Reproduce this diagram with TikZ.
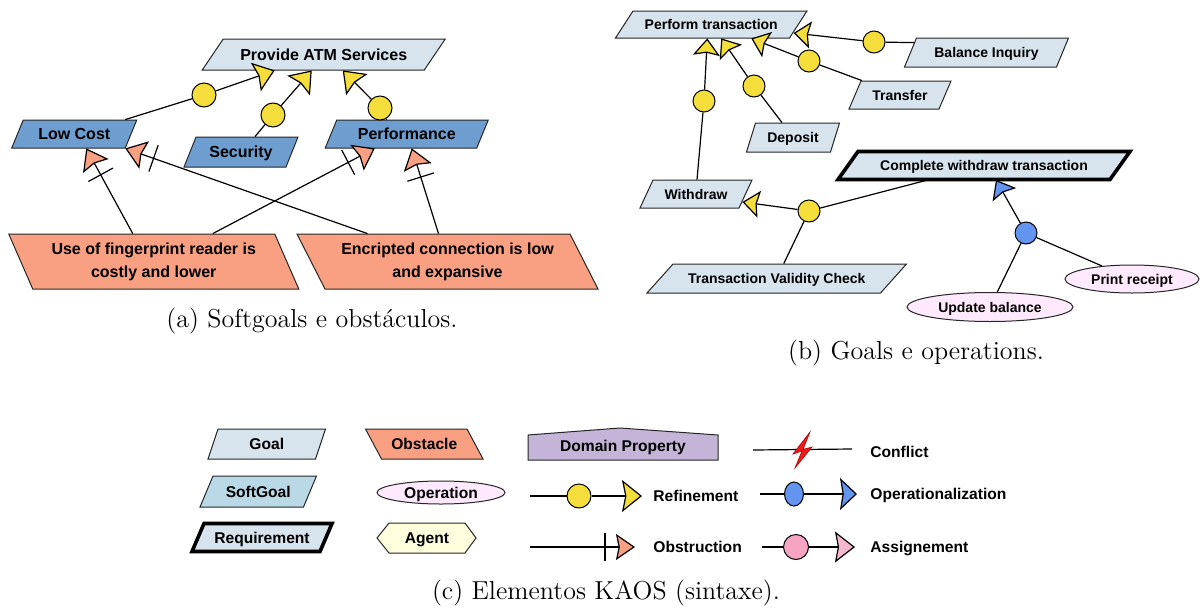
\documentclass[tikz,border=0pt]{standalone}
\usepackage{fontspec}
\newfontfamily\kaosfont{Liberation Sans}
\usetikzlibrary{arrows.meta,calc,shapes.geometric,decorations.markings}

\definecolor{goalfill}{RGB}{215,228,237}
\definecolor{sgdark}{RGB}{110,158,207}
\definecolor{sglight}{RGB}{185,217,230}
\definecolor{obstfill}{RGB}{250,160,130}
\definecolor{opfill}{RGB}{255,233,252}
\definecolor{agentfill}{RGB}{255,255,222}
\definecolor{domfill}{RGB}{196,180,216}
\definecolor{refyellow}{RGB}{245,221,60}
\definecolor{opblue}{RGB}{98,148,240}
\definecolor{aspink}{RGB}{245,165,195}
\definecolor{boltred}{RGB}{240,25,25}

% slanted KAOS box: polygon style, text style, name, centre x, centre y,
% edge length, height, slant (positive: top shifted right), text
\newcommand{\kpara}[9]{%
  \path[#1] ({#4-(#6)/2+(#8)/2},{#5-(#7)/2}) -- ({#4+(#6)/2+(#8)/2},{#5-(#7)/2})
     -- ({#4+(#6)/2-(#8)/2},{#5+(#7)/2}) -- ({#4-(#6)/2-(#8)/2},{#5+(#7)/2}) -- cycle;
  \node[#2, inner sep=0pt, minimum width=#6*0.5pt, minimum height=#7*0.5pt] (#3) at (#4,#5) {#9};}

\tikzset{
  conn/.style={draw=black, line width=0.6pt},
  kframe/.style={draw=black!85, line width=0.5pt},
  goal/.style={kframe, fill=goalfill},
  sgoalA/.style={kframe, fill=sgdark},
  sgoal/.style={kframe, fill=sglight},
  reqbox/.style={draw=black, line width=1.8pt, fill=goalfill, line join=miter},
  obst/.style={kframe, fill=obstfill},
  fa/.style={font=\kaosfont\bfseries\fontsize{8}{9.6}\selectfont, text height=6pt, text depth=0.2pt},
  fatwo/.style={font=\kaosfont\bfseries\fontsize{8}{11.5}\selectfont, align=center},
  fb/.style={font=\kaosfont\bfseries\fontsize{7}{8.4}\selectfont, text height=5.2pt, text depth=0.2pt},
  fc/.style={font=\kaosfont\bfseries\fontsize{7.8}{9.4}\selectfont, text height=5.8pt, text depth=0.2pt},
  capt/.style={font=\fontsize{13}{15.6}\selectfont, inner sep=0pt},
  kdot/.style={circle, draw=black, line width=0.5pt, inner sep=0pt},
  refdot/.style={kdot, fill=refyellow},
  opdot/.style={kdot, fill=opblue},
  asdot/.style={kdot, fill=aspink},
  opnode/.style={ellipse, draw=black!85, line width=0.5pt, fill=opfill, inner sep=0pt},
  obsbar/.style={postaction={decorate}, decoration={markings,
      mark=at position -15pt with {\draw[-, black, line width=0.6pt] (0pt,-7pt) -- (0pt,7pt);}}},
  refA/.style={conn, -{Stealth[length=10pt, width=15pt, inset=1.4pt, fill=refyellow]}},
  refB/.style={conn, -{Stealth[length=8.5pt, width=13.5pt, inset=1.3pt, fill=refyellow]}},
  refL/.style={conn, -{Stealth[length=10pt, width=16pt, inset=1.6pt, fill=refyellow]}},
  obsA/.style={conn, -{Stealth[length=10pt, width=14.5pt, inset=1.4pt, fill=obstfill]}, obsbar},
  obsL/.style={conn, -{Stealth[length=9.5pt, width=13pt, inset=1.3pt, fill=obstfill]}, obsbar},
  opB/.style={conn, -{Stealth[length=8.5pt, width=13.5pt, inset=1.3pt, fill=opblue]}},
  opL/.style={conn, -{Stealth[length=8.5pt, width=16pt, inset=1.3pt, fill=opblue]}},
  asL/.style={conn, -{Stealth[length=10pt, width=15.5pt, inset=1.4pt, fill=aspink!80!white]}},
}

\begin{document}
\begin{tikzpicture}[x=0.5pt, y=-0.5pt]
\path[fill=white, use as bounding box] (0,0) rectangle (1200,611);

% ---------------- (a) softgoals and obstacles ----------------
\kpara{goal}{fa}{atm}{323.75}{54.5}{222}{31}{21}{Provide ATM Services}
\kpara{sgoalA}{fa}{lc}{74.25}{134}{113.5}{28}{11.5}{Low Cost}
\kpara{sgoalA}{fa}{sec}{241}{152}{102}{30}{12}{Security}
\kpara{sgoalA}{fa}{perf}{406.75}{134}{151.5}{28}{11.5}{Performance}
\kpara{obst}{fatwo}{ob1}{153.75}{261.5}{266}{55}{-24}{Use of fingerprint reader is\\costly and lower}
\kpara{obst}{fatwo}{ob2}{447.5}{261.5}{273}{55}{-28}{Encripted connection is low\\and expansive}

\node[refdot, minimum size=12pt] (ra1) at (204,95) {};
\node[refdot, minimum size=12pt] (ra2) at (273,115) {};
\node[refdot, minimum size=12pt] (ra3) at (380,108) {};

\draw[conn] ($(lc.north)+(51,0)$) -- (ra1);
\draw[refA] (ra1) -- ($(atm.south)+(-49,0)$);
\draw[conn] ($(sec.north)+(14,0)$) -- (ra2);
\draw[refA] (ra2) -- ($(atm.south)+(-12,0)$);
\draw[conn] ($(perf.north)+(-20,0)$) -- (ra3);
\draw[refA] (ra3) -- ($(atm.south)+(19,0)$);

\draw[obsA] ($(ob1.north)+(-21,0)$) -- ($(lc.south)+(12,0)$);
\draw[obsA] ($(ob1.north)+(59,0)$) -- ($(perf.south)+(-32,0)$);
\draw[obsA] ($(ob2.north)+(-80,0)$) -- ($(lc.south)+(51,0)$);
\draw[obsA] ($(ob2.north)+(-9,0)$) -- ($(perf.south)+(5,0)$);

\node[capt] (capa) at (312,321.5) {(a) Softgoals e obstáculos.};

% ---------------- (b) goals and operations ----------------
\kpara{goal}{fb}{pt}{711.25}{24.5}{174}{27}{17.5}{Perform transaction}
\kpara{goal}{fb}{bi}{986.5}{52.5}{152}{29}{12}{Balance Inquiry}
\kpara{goal}{fb}{tf}{900}{95}{90}{28}{12}{Transfer}
\kpara{goal}{fb}{dep}{793}{137.5}{84}{29}{9}{Deposit}
\kpara{goal}{fb}{wd}{696}{194}{99}{28}{13}{Withdraw}
\kpara{reqbox}{fb}{cwt}{984}{165.5}{272}{28}{20}{Complete withdraw transaction}
\kpara{goal}{fb}{tvc}{776.75}{278.5}{233.5}{29}{26}{Transaction Validity Check}
\node[opnode, fb, minimum width=83pt, minimum height=14.5pt] (ub) at (990,307) {Update balance};
\node[opnode, fb, minimum width=67pt, minimum height=14pt] (pr) at (1132,279) {Print receipt};

\node[refdot, minimum size=11pt] (rb1) at (874,42) {};
\node[refdot, minimum size=11pt] (rb2) at (809,61) {};
\node[refdot, minimum size=11pt] (rb3) at (754,86) {};
\node[refdot, minimum size=11pt] (rb4) at (704,101) {};
\node[refdot, minimum size=11pt] (rb5) at (809,211) {};
\node[opdot, minimum size=11pt] (opd) at (1026,233) {};

\draw[conn] ($(bi.north west)+(4,5)$) -- (rb1);
\draw[refB] (rb1) -- ($(pt.east)+(-5,8.5)$);
\draw[conn] ($(tf.north)+(-38,0)$) -- (rb2);
\draw[refB] (rb2) -- ($(pt.south)+(40,0)$);
\draw[conn] ($(dep.north)+(-11,0)$) -- (rb3);
\draw[refB] (rb3) -- ($(pt.south)+(10,0)$);
\draw[conn] ($(wd.north)+(1,0)$) -- (rb4);
\draw[refB] (rb4) -- ($(pt.south)+(-4,0)$);
\draw[conn] ($(cwt.south)+(-56,0)$) -- (rb5);
\draw[conn] ($(tvc.north)+(7,0)$) -- (rb5);
\draw[refB] (rb5) -- ($(wd.east)+(-3.5,8)$);
\draw[opB] (opd) -- ($(cwt.south)+(12,0)$);
\draw[conn] (opd) -- (ub);
\draw[conn] (opd) -- (pr);

\node[capt] (capb) at (916,353) {(b) Goals e operations.};

% ---------------- (c) KAOS notation ----------------
\kpara{goal}{fc}{lgoal}{266.75}{444}{107.5}{30}{10}{Goal}
\kpara{sgoal}{fc}{lsg}{258.25}{491.5}{103.5}{31}{13}{SoftGoal}
\kpara{reqbox}{fc}{lreq}{262}{537.5}{128}{28}{12}{Requirement}
\kpara{obst}{fc}{lobs}{424.25}{444}{101.5}{30}{-16}{Obstacle}
\node[opnode, fc, minimum width=64pt, minimum height=11.5pt] (lop) at (441,492.5) {Operation};
\path[kframe, fill=agentfill] (377,538) -- (389,523) -- (465,523) -- (476,538) -- (465,553) -- (389,553) -- cycle;
\node[fc, inner sep=0pt] (lag) at (427,538) {Agent};
\path[kframe, fill=domfill] (528,460) -- (528,435) -- (620,428) -- (718,435) -- (718,460) -- cycle;
\node[fc, inner sep=0pt] (ldom) at (623,446) {Domain Property};

% conflict
\coordinate (cfa) at (753,450);
\coordinate (cfb) at (852,449);
\draw[conn] (cfa) -- (cfb);
\path[fill=boltred, draw=red!70!black, line width=0.3pt]
  (810,432) -- (793,454) -- (802,451) -- (795,468) -- (812,447) -- (803,449.5) -- cycle;
\node[fc, inner sep=0pt, anchor=west] (lconf) at (870,452) {Conflict};

% refinement
\coordinate (rfa) at (530,496);
\node[refdot, minimum size=12pt] (rfd) at (579,496) {};
\coordinate (rfb) at (642,496);
\draw[conn] (rfa) -- (rfd);
\draw[refL] (rfd) -- (rfb);
\node[fc, inner sep=0pt, anchor=west] (lref) at (653,496) {Refinement};

% obstruction
\coordinate (osa) at (530,547);
\coordinate (osb) at (635,547);
\draw[obsL] (osa) -- (osb);
\node[fc, inner sep=0pt, anchor=west] (lobst) at (653,547) {Obstruction};

% operationalization
\coordinate (opa) at (760,494);
\node[opdot, ellipse, minimum width=9.5pt, minimum height=12pt] (lopd) at (794,494) {};
\coordinate (opb) at (857,494);
\draw[conn] (opa) -- (lopd);
\draw[opL] (lopd) -- (opb);
\node[fc, inner sep=0pt, anchor=west] (lopz) at (870,494) {Operationalization};

% assignment
\coordinate (asa) at (762,547);
\node[asdot, minimum size=12.5pt] (lasd) at (796,547) {};
\coordinate (asb) at (855,547);
\draw[conn] (asa) -- (lasd);
\draw[asL] (lasd) -- (asb);
\node[fc, inner sep=0pt, anchor=west] (lass) at (870,547) {Assignement};

\node[capt] (capc) at (606,593) {(c) Elementos KAOS (sintaxe).};
\end{tikzpicture}
\end{document}
